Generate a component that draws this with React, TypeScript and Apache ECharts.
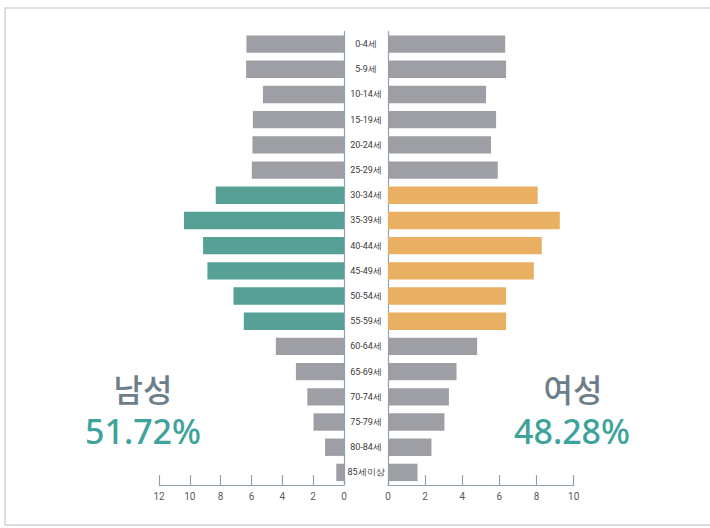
import React, { useEffect, useRef } from "react";
import * as echarts from "echarts";

const ageGroups = [
  "0-4세", "5-9세", "10-14세", "15-19세", "20-24세", "25-29세",
  "30-34세", "35-39세", "40-44세", "45-49세", "50-54세", "55-59세",
  "60-64세", "65-69세", "70-74세", "75-79세", "80-84세", "85세이상",
];
const maleValues = [6.33, 6.35, 5.26, 5.91, 5.94, 5.98, 8.32, 10.38, 9.14, 8.86, 7.17, 6.5, 4.42, 3.12, 2.38, 1.98, 1.23, 0.5];
const femaleValues = [6.31, 6.36, 5.28, 5.82, 5.55, 5.91, 8.06, 9.25, 8.28, 7.85, 6.36, 6.36, 4.8, 3.69, 3.28, 3.04, 2.34, 1.59];
const highlighted = ["30-34세", "35-39세", "40-44세", "45-49세", "50-54세", "55-59세"];
const maleTicks = [0, 2, 4, 6, 8, 10, 12];
const femaleTicks = [0, 2, 4, 6, 8, 10];
const maleLabel = "남성";
const maleShare = "51.72%";
const femaleLabel = "여성";
const femaleShare = "48.28%";

const GRAY = "#9e9fa4";
const TEAL = "#56a096";
const ORANGE = "#e9b063";
const AXIS = "#8ea3b2";

export default function App() {
  const ref = useRef<HTMLDivElement>(null);
  useEffect(() => {
    if (!ref.current) return;
    const chart = echarts.init(ref.current, undefined, { renderer: "svg" });
    const axisCommon = {
      type: "value" as const,
      min: 0,
      interval: 2,
      splitLine: { show: false },
      axisLine: { show: true, lineStyle: { color: AXIS, width: 1.2 } },
      axisTick: { show: true, inside: true, length: 10, lineStyle: { color: AXIS, width: 1.2 } },
      axisLabel: { color: "#5a5a5a", fontSize: 10, margin: 6, fontFamily: "Roboto, sans-serif" },
    };
    const catCommon = {
      type: "category" as const,
      data: ageGroups,
      inverse: true,
      axisTick: { show: false },
      axisLine: { show: true, lineStyle: { color: AXIS, width: 1.2 } },
    };
    chart.setOption({
      animation: false,
      backgroundColor: "#ffffff",
      grid: [
        { left: 159, right: 366, top: 31.5, bottom: 43 },
        { left: 388, right: 136.3, top: 31.5, bottom: 43 },
      ],
      xAxis: [
        { ...axisCommon, gridIndex: 0, max: maleTicks[maleTicks.length - 1], inverse: true },
        { ...axisCommon, gridIndex: 1, max: femaleTicks[femaleTicks.length - 1] },
      ],
      yAxis: [
        {
          ...catCommon,
          gridIndex: 0,
          position: "right",
          axisLabel: {
            show: true,
            align: "center",
            margin: 22,
            color: "#3a3a3a",
            fontSize: 9,
            fontFamily: "Roboto, sans-serif",
            letterSpacing: -0.5,
          },
        },
        { ...catCommon, gridIndex: 1, position: "left", axisLabel: { show: false } },
      ],
      series: [
        {
          type: "bar",
          xAxisIndex: 0,
          yAxisIndex: 0,
          barCategoryGap: "31%",
          data: maleValues.map((v, i) => ({
            value: v,
            itemStyle: { color: highlighted.includes(ageGroups[i]) ? TEAL : GRAY },
          })),
        },
        {
          type: "bar",
          xAxisIndex: 1,
          yAxisIndex: 1,
          barCategoryGap: "31%",
          data: femaleValues.map((v, i) => ({
            value: v,
            itemStyle: { color: highlighted.includes(ageGroups[i]) ? ORANGE : GRAY },
          })),
        },
      ],
      graphic: [
        {
          type: "rect",
          shape: { x: 5, y: 8, width: 720, height: 517 },
          style: { fill: "none", stroke: "#cdd5db", lineWidth: 1.5 },
          silent: true,
        },
        {
          type: "text",
          x: 143,
          y: 388,
          style: {
            text: maleLabel,
            font: "500 32px 'Noto Sans CJK KR', sans-serif",
            fill: "#6d7e89",
            textAlign: "center",
            textVerticalAlign: "middle",
          },
        },
        {
          type: "text",
          x: 143,
          y: 431,
          style: {
            text: maleShare,
            font: "500 34px 'Noto Sans', sans-serif",
            fill: "#3ea39a",
            textAlign: "center",
            textVerticalAlign: "middle",
          },
        },
        {
          type: "text",
          x: 573,
          y: 388,
          style: {
            text: femaleLabel,
            font: "500 32px 'Noto Sans CJK KR', sans-serif",
            fill: "#6d7e89",
            textAlign: "center",
            textVerticalAlign: "middle",
          },
        },
        {
          type: "text",
          x: 572,
          y: 431,
          style: {
            text: femaleShare,
            font: "500 34px 'Noto Sans', sans-serif",
            fill: "#3ea39a",
            textAlign: "center",
            textVerticalAlign: "middle",
          },
        },
      ],
    });
    return () => chart.dispose();
  }, []);
  return (
    <div
      ref={ref}
      style={{ position: "fixed", left: 0, top: 0, width: 710, height: 528 }}
    />
  );
}
